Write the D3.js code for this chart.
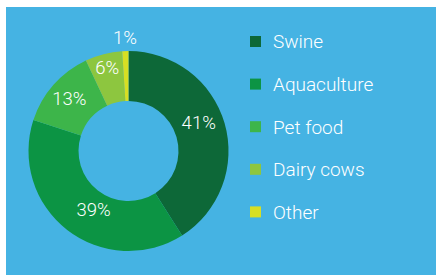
<!DOCTYPE html>
<html>
<head>
<meta charset="utf-8">
<script src="https://cdn.jsdelivr.net/npm/d3@7"></script>
<style>
  body { margin: 0; background: #fff; }
  text { font-family: Roboto, "Open Sans", sans-serif; font-weight: 300; fill: #fff; }
</style>
</head>
<body>
<svg width="436" height="275"></svg>
<script>
let categories = ["Swine", "Aquaculture", "Pet food", "Dairy cows", "Other"];
let shares = [41, 39, 13, 6, 1];
let colours = ["#0d6838", "#0c9444", "#3db54a", "#8dc63f", "#d7df23"];

let svg = d3.select("svg");

svg.append("rect")
  .attr("x", 6).attr("y", 7)
  .attr("width", 430).attr("height", 268)
  .attr("fill", "#45b3e3");

let colour = d3.scaleOrdinal().domain(categories).range(colours);

let pie = d3.pie().sort(null).value(d => d.v);
let arcs = pie(categories.map((c, i) => ({ c: c, v: shares[i] })));

let arc = d3.arc().innerRadius(50).outerRadius(100);

let g = svg.append("g").attr("transform", "translate(128.5,151)");

g.selectAll("path")
  .data(arcs)
  .enter().append("path")
  .attr("d", arc)
  .attr("fill", d => colour(d.data.c));

// label placement tweaks: radius and angle shift (radians)
let labelTweak = {
  "Swine": [76, -0.11],
  "Aquaculture": [68, -0.12],
  "Pet food": [79, 0],
  "Dairy cows": [86, 0],
  "Other": [114, 0]
};

g.selectAll(".lbl")
  .data(arcs)
  .enter().append("text")
  .attr("class", "lbl")
  .attr("transform", d => {
    let t = labelTweak[d.data.c];
    let a = (d.startAngle + d.endAngle) / 2 + t[1];
    return "translate(" + (t[0] * Math.sin(a)) + "," + (-t[0] * Math.cos(a)) + ")";
  })
  .attr("text-anchor", "middle")
  .attr("dy", "0.36em")
  .style("font-size", "18.5px")
  .text(d => d.data.v + "%");

let legend = svg.append("g").attr("transform", "translate(250,36)");

let item = legend.selectAll(".item")
  .data(categories)
  .enter().append("g")
  .attr("class", "item")
  .attr("transform", (d, i) => "translate(0," + (i * 42.6) + ")");

item.append("rect")
  .attr("width", 11).attr("height", 11)
  .attr("fill", d => colour(d));

item.append("text")
  .attr("x", 23).attr("y", 5.5)
  .attr("dy", "0.36em")
  .style("font-size", "19px")
  .text(d => d);
</script>
</body>
</html>
